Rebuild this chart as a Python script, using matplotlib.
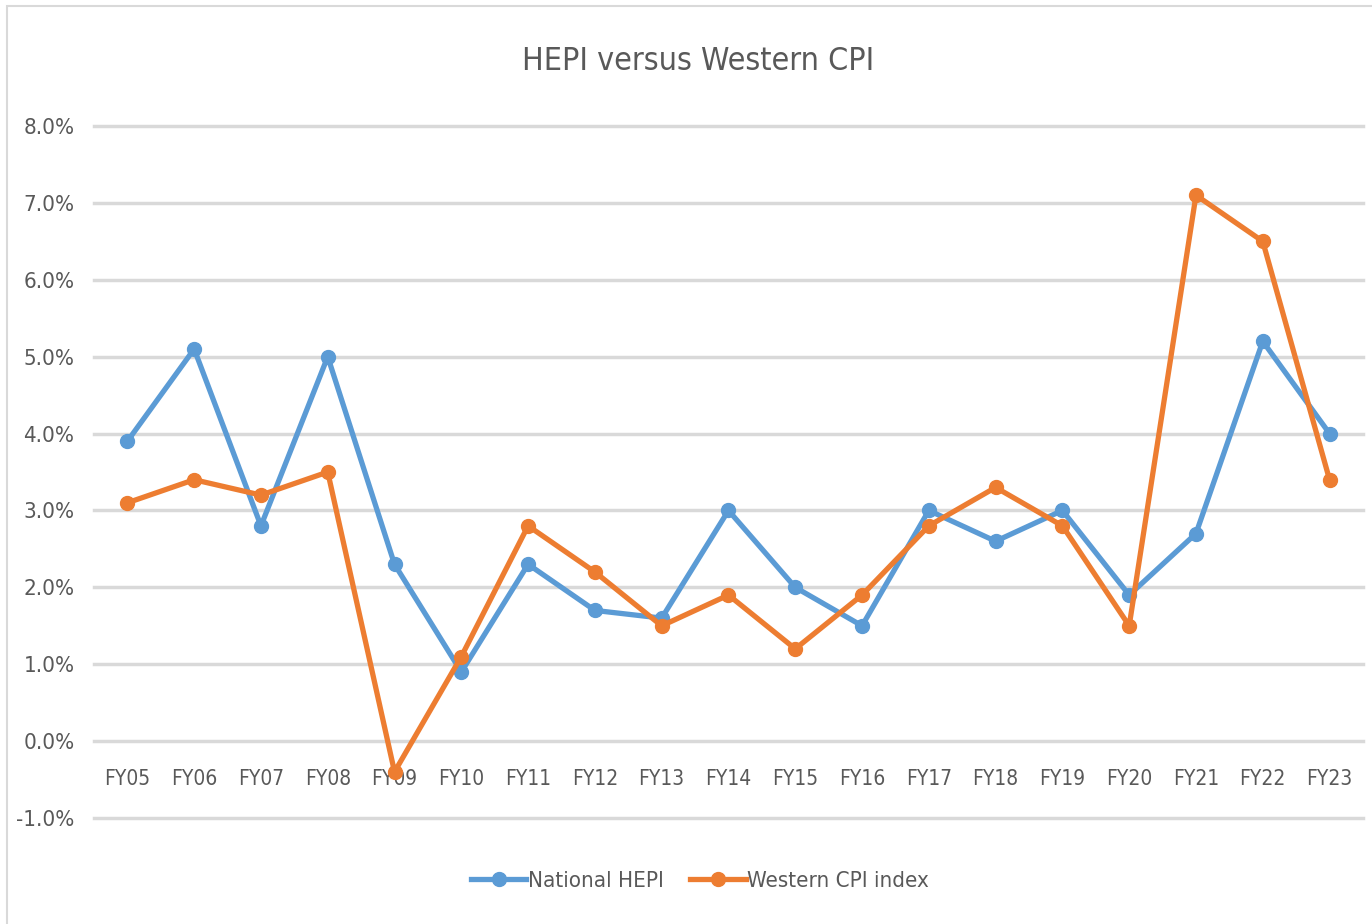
import numpy as np
import matplotlib
matplotlib.use("Agg")
import matplotlib.pyplot as plt
from matplotlib.patches import Rectangle

plt.rcParams['font.family'] = ['Liberation Sans Narrow', 'DejaVu Sans']
plt.rcParams['font.stretch'] = 'condensed'

years = ['FY05', 'FY06', 'FY07', 'FY08', 'FY09', 'FY10', 'FY11', 'FY12', 'FY13', 'FY14',
         'FY15', 'FY16', 'FY17', 'FY18', 'FY19', 'FY20', 'FY21', 'FY22', 'FY23']
hepi = [3.9, 5.1, 2.8, 5.0, 2.3, 0.9, 2.3, 1.7, 1.6, 3.0,
        2.0, 1.5, 3.0, 2.6, 3.0, 1.9, 2.7, 5.2, 4.0]
western_cpi = [3.1, 3.4, 3.2, 3.5, -0.4, 1.1, 2.8, 2.2, 1.5, 1.9,
               1.2, 1.9, 2.8, 3.3, 2.8, 1.5, 7.1, 6.5, 3.4]
yticks = [-1, 0, 1, 2, 3, 4, 5, 6, 7, 8]

blue = '#5B9BD5'
orange = '#ED7D31'
text_col = '#595959'

fig = plt.figure(figsize=(13.72, 9.24), dpi=100)
fig.patches.append(Rectangle((0.005, -0.1), 1.2, 1.093, transform=fig.transFigure,
                             fill=False, edgecolor='#D9D9D9', linewidth=1.5))
ax = fig.add_axes([0.0685, 0.1147, 0.9249, 0.7489])

x = np.arange(len(years))
ax.plot(x, hepi, color=blue, lw=3.8, marker='o', ms=10, label='National HEPI',
        solid_joinstyle='round')
ax.plot(x, western_cpi, color=orange, lw=3.8, marker='o', ms=10, label='Western CPI index',
        solid_joinstyle='round')

ax.set_xlim(-0.5, len(years) - 0.5)
ax.set_ylim(-1, 8)
ax.set_yticks(yticks)
ax.set_yticklabels(['%.1f%%' % v for v in yticks])
ax.set_xticks(x)
ax.set_xticklabels(years)
ax.grid(axis='y', color='#D9D9D9', lw=2.5)
for gl in ax.get_ygridlines():
    gl.set_clip_on(False)
ax.set_axisbelow(True)
for s in ['top', 'right', 'left']:
    ax.spines[s].set_visible(False)
ax.spines['bottom'].set_position(('data', 0))
ax.spines['bottom'].set_visible(False)
ax.tick_params(axis='both', length=0, labelsize=16, labelcolor=text_col)
ax.tick_params(axis='x', labelsize=15, pad=20)
ax.tick_params(axis='y', pad=14)

fig.text(0.509, 0.933, 'HEPI versus Western CPI', ha='center', va='center',
         fontsize=23, color=text_col)
fig.legend(loc='center', bbox_to_anchor=(0.51, 0.047), ncol=2, frameon=False,
           fontsize=16, labelcolor=text_col, handlelength=2.5, handletextpad=0.05,
           columnspacing=1.2)

fig.savefig('out.png', dpi=100)
